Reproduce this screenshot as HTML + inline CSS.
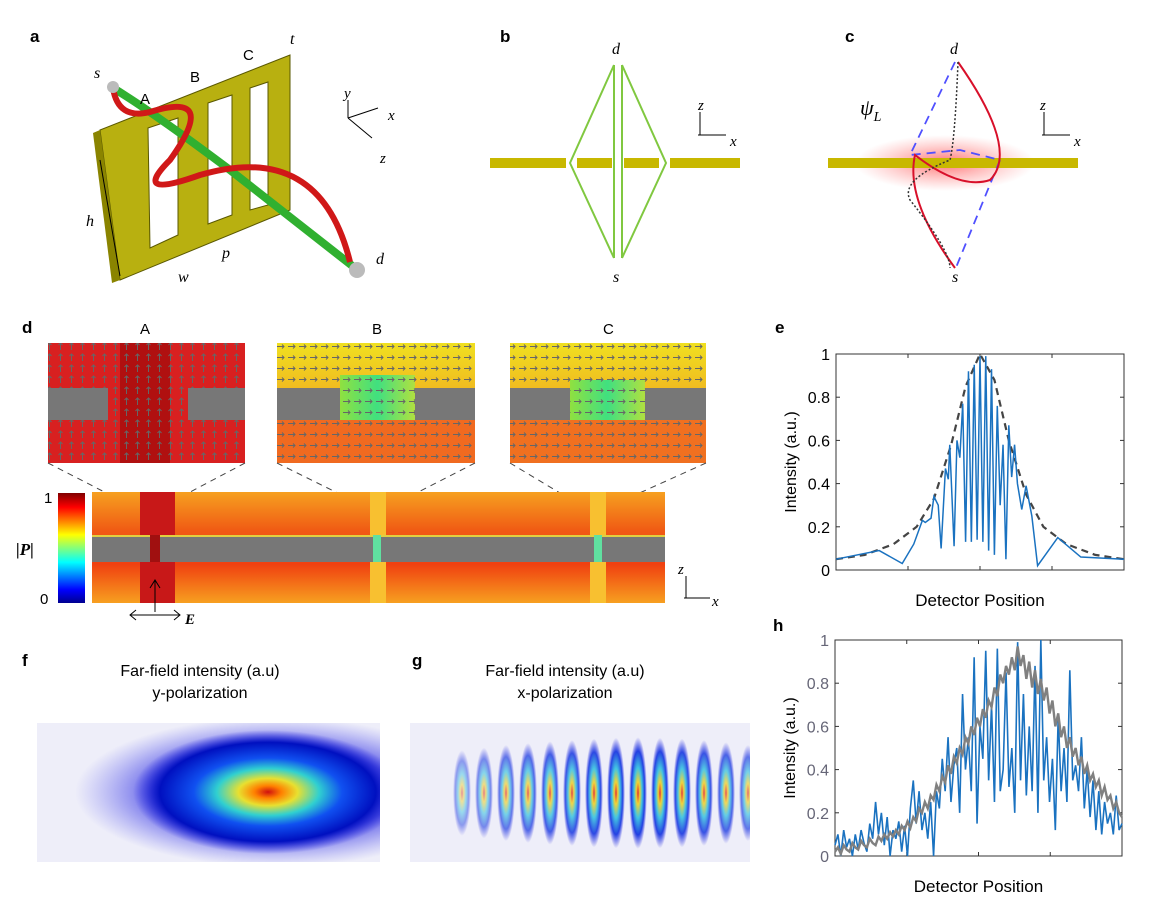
<!DOCTYPE html>
<html><head><meta charset="utf-8"><style>
body{margin:0;background:#fff;}
svg{display:block;font-family:"Liberation Sans",sans-serif;}
.lbl{font-weight:bold;font-size:17px;}
.it{font-family:"Liberation Serif",serif;font-style:italic;}
</style></head><body>
<svg id="fig" width="1161" height="899" viewBox="0 0 1161 899">
<defs>
 <clipPath id="clipF"><rect x="37" y="723" width="343" height="139"/></clipPath>
 <clipPath id="clipG"><rect x="410" y="723" width="340" height="139"/></clipPath>
 <linearGradient id="jet" x1="0" y1="1" x2="0" y2="0">
  <stop offset="0" stop-color="#00008f"/><stop offset="0.12" stop-color="#0000ff"/><stop offset="0.37" stop-color="#00ffff"/>
  <stop offset="0.62" stop-color="#ffff00"/><stop offset="0.87" stop-color="#ff0000"/><stop offset="1" stop-color="#800000"/>
 </linearGradient>
 <radialGradient id="fjet" cx="0.5" cy="0.5" r="0.5">
  <stop offset="0" stop-color="#d01010"/><stop offset="0.1" stop-color="#ff8000"/><stop offset="0.22" stop-color="#e8e030"/>
  <stop offset="0.38" stop-color="#30d0d0"/><stop offset="0.55" stop-color="#1050f0"/><stop offset="0.8" stop-color="#0010c0"/>
  <stop offset="1" stop-color="#2020e0" stop-opacity="0"/>
 </radialGradient>
 <radialGradient id="fhalo" cx="0.5" cy="0.5" r="0.5">
  <stop offset="0.6" stop-color="#2020e0" stop-opacity="0.7"/><stop offset="1" stop-color="#6060f0" stop-opacity="0"/>
 </radialGradient>
 <radialGradient id="gjet" cx="0.5" cy="0.5" r="0.5">
  <stop offset="0" stop-color="#e02020"/><stop offset="0.2" stop-color="#f0d020"/><stop offset="0.45" stop-color="#30c0e0"/>
  <stop offset="0.75" stop-color="#1030e0"/><stop offset="1" stop-color="#2020e0" stop-opacity="0"/>
 </radialGradient>
 <radialGradient id="glow" cx="0.5" cy="0.5" r="0.5">
  <stop offset="0" stop-color="#ff5050" stop-opacity="0.8"/><stop offset="1" stop-color="#ff8080" stop-opacity="0"/>
 </radialGradient>
 <pattern id="arrows" width="11" height="11" patternUnits="userSpaceOnUse">
  <path d="M2 5.5 H9 M7 3.5 L9 5.5 L7 7.5" stroke="#666" stroke-width="1" fill="none"/>
 </pattern>
 <pattern id="arrowsV" width="11" height="11" patternUnits="userSpaceOnUse">
  <path d="M5.5 9 V2 M3.5 4 L5.5 2 L7.5 4" stroke="#666" stroke-width="1" fill="none"/>
 </pattern>
 <linearGradient id="strip" x1="0" y1="0" x2="0" y2="1">
  <stop offset="0" stop-color="#f6a020"/><stop offset="0.35" stop-color="#f05a14"/><stop offset="0.65" stop-color="#f04010"/><stop offset="1" stop-color="#f7a020"/>
 </linearGradient>
 <linearGradient id="Btop" x1="0" y1="0" x2="0" y2="1">
  <stop offset="0" stop-color="#f0e020"/><stop offset="1" stop-color="#f08020"/>
 </linearGradient>
 <linearGradient id="greenfill" x1="0" y1="0" x2="1" y2="0">
  <stop offset="0" stop-color="#90e040"/><stop offset="0.5" stop-color="#40e080"/><stop offset="1" stop-color="#b0e040"/>
 </linearGradient>
</defs>

<!-- Panel a -->
<text class="lbl" x="30" y="42">a</text>
<g>
 <polygon points="100,130 290,55 290,210 120,280" fill="#b8b010" stroke="#5a5800" stroke-width="1"/>
 <polygon points="100,130 120,280 112,283 93,133" fill="#8a8400"/>
 <polygon points="148,128 178,118 178,235 150,248" fill="#fff" stroke="#5a5800"/>
 <polygon points="208,103 232,95 232,215 208,224" fill="#fff" stroke="#5a5800"/>
 <polygon points="250,88 268,82 268,205 250,210" fill="#fff" stroke="#5a5800"/>
 <path d="M113 88 Q150 110 230 170 L355 268" stroke="#30b030" stroke-width="8" fill="none"/>
 <path d="M113 88 Q118 120 150 112 Q220 90 170 160 Q130 200 200 175 Q320 140 350 262" stroke="#d01818" stroke-width="6" fill="none"/>
 <circle cx="113" cy="87" r="6" fill="#bbb"/><circle cx="357" cy="270" r="8" fill="#bbb"/>
 <text x="94" y="78" class="it" font-size="16">s</text>
 <text x="376" y="264" class="it" font-size="16">d</text>
 <text x="140" y="104" font-size="15">A</text>
 <text x="190" y="82" font-size="15">B</text>
 <text x="243" y="60" font-size="15">C</text>
 <text x="290" y="44" class="it" font-size="16">t</text>
 <text x="86" y="226" class="it" font-size="16">h</text>
 <text x="178" y="282" class="it" font-size="16">w</text>
 <text x="222" y="258" class="it" font-size="16">p</text>
 <path d="M100 160 L120 276" stroke="#000" stroke-width="1"/>
 <path d="M348 118 V100 M348 118 L378 108 M348 118 L372 138" stroke="#000" fill="none"/>
 <text x="344" y="98" class="it" font-size="15">y</text>
 <text x="388" y="120" class="it" font-size="15">x</text>
 <text x="380" y="163" class="it" font-size="15">z</text>
</g>

<!-- Panel b -->
<text class="lbl" x="500" y="42">b</text>
<g>
 <rect x="490" y="158" width="76" height="10" fill="#c8b800"/>
 <rect x="577" y="158" width="35" height="10" fill="#c8b800"/>
 <rect x="624" y="158" width="35" height="10" fill="#c8b800"/>
 <rect x="670" y="158" width="70" height="10" fill="#c8b800"/>
 <path d="M614 65 L570 163 L614 258 M622 65 L666 163 L622 258 M614 65 V258 M622 65 V258" stroke="#80c840" stroke-width="2" fill="none"/>
 <text x="612" y="54" class="it" font-size="16">d</text><text x="613" y="282" class="it" font-size="16">s</text>
 <path d="M698 135 H726 M700 135 V112" stroke="#000" fill="none"/>
 <text x="698" y="110" class="it" font-size="15">z</text><text x="730" y="146" class="it" font-size="15">x</text>
</g>

<!-- Panel c -->
<text class="lbl" x="845" y="42">c</text>
<g>
 <ellipse cx="945" cy="163" rx="90" ry="28" fill="url(#glow)"/>
 <rect x="828" y="158" width="250" height="10" fill="#c8b800"/>
 <path d="M955 62 L910 155 L960 150 L1000 160 L955 270" stroke="#5050ff" stroke-width="1.8" stroke-dasharray="9,6" fill="none"/>
 <path d="M958 62 Q1020 150 990 180 Q960 190 915 155 Q905 200 955 268" stroke="#d8102a" stroke-width="2" fill="none"/>
 <path d="M958 62 Q955 140 950 160 Q900 180 910 200 Q950 250 950 268" stroke="#333" stroke-width="1.5" stroke-dasharray="2,2" fill="none"/>
 <text x="950" y="54" class="it" font-size="16">d</text><text x="952" y="282" class="it" font-size="16">s</text>
 <text x="860" y="115" class="it" font-size="22">ψ<tspan font-size="14" dy="6">L</tspan></text>
 <path d="M1042 135 H1070 M1044 135 V112" stroke="#000" fill="none"/>
 <text x="1040" y="110" class="it" font-size="15">z</text><text x="1074" y="146" class="it" font-size="15">x</text>
</g>

<!-- Panel d -->
<text class="lbl" x="22" y="333">d</text>
<g>
 <text x="140" y="334" font-size="15">A</text>
 <rect x="48" y="343" width="197" height="120" fill="#d82020"/>
 <rect x="120" y="343" width="50" height="120" fill="#b01010"/>
 <rect x="48" y="343" width="197" height="120" fill="url(#arrowsV)"/>
 <rect x="48" y="388" width="60" height="32" fill="#777"/><rect x="188" y="388" width="57" height="32" fill="#777"/>
</g>
<g>
 <text x="372" y="334" font-size="15">B</text>
 <rect x="277" y="343" width="198" height="120" fill="url(#Btop)"/>
 <rect x="277" y="420" width="198" height="43" fill="#f06a20"/>
 <rect x="340" y="375" width="75" height="45" fill="url(#greenfill)"/>
 <rect x="277" y="343" width="198" height="120" fill="url(#arrows)"/>
 <rect x="277" y="388" width="63" height="32" fill="#777"/><rect x="415" y="388" width="60" height="32" fill="#777"/>
</g>
<g>
 <text x="603" y="334" font-size="15">C</text>
 <rect x="510" y="343" width="196" height="120" fill="url(#Btop)"/>
 <rect x="510" y="420" width="196" height="43" fill="#f07020"/>
 <rect x="570" y="380" width="75" height="40" fill="url(#greenfill)"/>
 <rect x="510" y="343" width="196" height="120" fill="url(#arrows)"/>
 <rect x="510" y="388" width="60" height="32" fill="#777"/><rect x="645" y="388" width="61" height="32" fill="#777"/>
</g>
<g stroke="#444" stroke-dasharray="6,5" fill="none">
 <path d="M48 463 L120 500 M245 463 L175 500 M277 463 L362 505 M475 463 L393 505 M510 463 L580 505 M706 463 L613 505"/>
 <rect x="362" y="505" width="31" height="90"/><rect x="580" y="505" width="33" height="90"/>
</g>
<g>
 <rect x="58" y="493" width="27" height="110" fill="url(#jet)"/>
 <text x="44" y="503" font-size="15">1</text><text x="40" y="604" font-size="15">0</text>
 <text x="16" y="555" class="it" font-size="17" font-weight="bold">|P|</text>
</g>
<g>
 <rect x="92" y="492" width="573" height="111" fill="url(#strip)"/>
 <rect x="140" y="492" width="35" height="111" fill="#c81818"/>
 <rect x="370" y="492" width="16" height="111" fill="#f8c030"/>
 <rect x="590" y="492" width="16" height="111" fill="#f8c030"/>
 <rect x="92" y="535" width="573" height="27" fill="#777"/>
 <rect x="92" y="535" width="573" height="2" fill="#e0d040"/>
 <rect x="150" y="535" width="10" height="27" fill="#a01010"/>
 <rect x="373" y="535" width="8" height="27" fill="#60e0a0"/>
 <rect x="594" y="535" width="8" height="27" fill="#60e0a0"/>
 <path d="M155 612 V580 M150 588 L155 580 L160 588 M130 615 H180 M136 610 L130 615 L136 620 M174 610 L180 615 L174 620" stroke="#000" fill="none"/>
 <text x="185" y="624" class="it" font-size="15" font-weight="bold">E</text>
 <path d="M684 598 H710 M686 598 V576" stroke="#000" fill="none"/>
 <text x="678" y="574" class="it" font-size="15">z</text><text x="712" y="606" class="it" font-size="15">x</text>
</g>

<!-- Panel f -->
<text class="lbl" x="22" y="666">f</text>
<text x="200" y="676" font-size="16" text-anchor="middle">Far-field intensity (a.u)</text>
<text x="200" y="698" font-size="16" text-anchor="middle">y-polarization</text>
<g clip-path="url(#clipF)">
 <rect x="37" y="723" width="343" height="139" fill="#eeeef9"/>
 <ellipse cx="275" cy="792" rx="200" ry="75" fill="url(#fhalo)"/>
 <ellipse cx="268" cy="792" rx="135" ry="62" fill="url(#fjet)"/>
</g>

<!-- Panel g -->
<text class="lbl" x="412" y="666">g</text>
<text x="565" y="676" font-size="16" text-anchor="middle">Far-field intensity (a.u)</text>
<text x="565" y="698" font-size="16" text-anchor="middle">x-polarization</text>
<g id="gfringes" clip-path="url(#clipG)">
 <rect x="410" y="723" width="340" height="139" fill="#eeeef9"/>
</g>

<!-- Panel e -->
<text class="lbl" x="775" y="333">e</text>
<g id="chartE"></g>
<!-- Panel h -->
<text class="lbl" x="773" y="631">h</text>
<g id="chartH"></g>
</svg>
<script>
// Panel e data
const eBlueX=[0,0.15,0.23,0.27,0.30,0.31,0.33,0.34,0.355,0.365,0.38,0.39,0.395,0.41,0.42,0.43,0.44,0.45,0.46,0.47,0.48,0.49,0.50,0.51,0.52,0.53,0.54,0.55,0.56,0.57,0.58,0.59,0.60,0.61,0.62,0.63,0.645,0.66,0.68,0.70,0.77,0.85,1];
const eBlueY=[0.05,0.09,0.03,0.12,0.23,0.22,0.24,0.34,0.30,0.10,0.47,0.42,0.58,0.11,0.60,0.52,0.77,0.13,0.92,0.13,0.95,0.14,0.99,0.13,0.99,0.09,0.93,0.07,0.76,0.30,0.58,0.05,0.67,0.43,0.58,0.40,0.28,0.39,0.25,0.02,0.15,0.06,0.05];
const eDashX=[0,0.1,0.2,0.28,0.34,0.4,0.45,0.5,0.55,0.6,0.66,0.72,0.8,0.9,1];
const eDashY=[0.05,0.07,0.12,0.2,0.33,0.58,0.85,1.0,0.88,0.6,0.35,0.2,0.12,0.07,0.05];
const yTicks=[0,0.2,0.4,0.6,0.8,1];
const yTickLabels=["0","0.2","0.4","0.6","0.8","1"];
// Panel h data
const hGray=[0.02,0.04,0.01,0.05,0.03,0.02,0.06,0.04,0.03,0.07,0.05,0.04,0.08,0.06,0.05,0.09,0.07,0.1,0.08,0.11,
0.09,0.12,0.1,0.14,0.12,0.16,0.13,0.18,0.16,0.22,0.2,0.25,0.22,0.28,0.26,0.33,0.3,0.37,0.34,0.42,
0.38,0.46,0.43,0.5,0.47,0.55,0.52,0.6,0.56,0.64,0.6,0.68,0.64,0.72,0.69,0.78,0.74,0.84,0.8,0.88,
0.84,0.92,0.86,0.97,0.88,0.93,0.82,0.9,0.78,0.86,0.75,0.82,0.72,0.78,0.66,0.72,0.6,0.66,0.55,0.6,
0.5,0.55,0.46,0.5,0.42,0.46,0.38,0.42,0.35,0.38,0.32,0.35,0.28,0.32,0.26,0.28,0.22,0.25,0.2,0.18];
const hBlue=[0.05,0.1,0.0,0.12,0.04,0.08,0.0,0.1,0.03,0.12,0.06,0.02,0.15,0.08,0.25,0.1,0.2,0.05,0.18,0.0,
0.12,0.08,0.16,0.02,0.14,0.0,0.22,0.35,0.15,0.3,0.12,0.2,0.08,0.25,0.0,0.3,0.22,0.45,0.3,0.55,
0.25,0.42,0.5,0.2,0.75,0.4,0.55,0.3,0.92,0.15,0.6,0.45,0.95,0.35,0.7,0.25,0.96,0.3,0.4,0.85,
0.32,0.5,0.2,0.99,0.35,0.75,0.28,0.6,0.3,0.88,0.2,1.0,0.35,0.55,0.25,0.45,0.12,0.65,0.3,0.5,
0.25,0.86,0.35,0.42,0.3,0.55,0.22,0.4,0.18,0.35,0.12,0.3,0.1,0.25,0.15,0.2,0.1,0.28,0.12,0.15];
// Panel g fringe intensities
const gFringes=[0.15,0.3,0.45,0.55,0.65,0.72,0.8,0.85,0.88,0.85,0.8,0.72,0.6,0.45];

const NS="http://www.w3.org/2000/svg";
function mk(tag,attrs,parent){const e=document.createElementNS(NS,tag);for(const k in attrs)e.setAttribute(k,attrs[k]);parent.appendChild(e);return e;}

function axes(g,L,R,T,B,tc){
  const f=mk('rect',{x:L,y:T,width:R-L,height:B-T,fill:'none',stroke:'#333','stroke-width':1},g);
  
  
  yTicks.forEach((v,i)=>{const y=B-v*(B-T);
    mk('line',{x1:L,x2:L+4,y1:y,y2:y,stroke:'#333'},g);mk('line',{x1:R,x2:R-4,y1:y,y2:y,stroke:'#333'},g);
    const t=mk('text',{x:L-6,y:y+6,'text-anchor':'end','font-size':16,fill:tc},g);t.textContent=yTickLabels[i];
    
    });
  for(let i=0;i<=4;i++){const x=L+i*(R-L)/4;mk('line',{x1:x,x2:x,y1:T,y2:T+4,stroke:'#333'},g);mk('line',{x1:x,x2:x,y1:B,y2:B-4,stroke:'#333'},g);}
  const xt=mk('text',{x:(L+R)/2,y:B+36,'text-anchor':'middle','font-size':17},g);xt.textContent='Detector Position';
  
  
  const yt=mk('text',{x:0,y:0,'text-anchor':'middle','font-size':16,transform:`translate(${L-40},${(T+B)/2}) rotate(-90)`},g);yt.textContent='Intensity (a.u.)';
  
  
}
// Chart e
(function(){const g=document.getElementById('chartE');const L=836,R=1124,T=354,B=570;
 const sx=v=>L+v*(R-L),sy=v=>B-v*(B-T);
 axes(g,L,R,T,B,'#000');
 const d=mk('path',{d:eDashX.map((x,i)=>(i?'L':'M')+sx(x)+' '+sy(eDashY[i])).join(' '),stroke:'#444','stroke-width':2.2,'stroke-dasharray':'7,5',fill:'none'},g);
 
 
 const b=mk('path',{d:eBlueX.map((x,i)=>(i?'L':'M')+sx(x)+' '+sy(eBlueY[i])).join(' '),stroke:'#1a72c0','stroke-width':1.5,fill:'none'},g);
 
 
})();
// Chart h
(function(){const g=document.getElementById('chartH');const L=835,R=1122,T=640,B=856;
 const sy=v=>B-v*(B-T);
 axes(g,L,R,T,B,'#667');
 const n=hBlue.length;const sx=i=>L+i*(R-L)/(n-1);
 const b=mk('path',{d:hBlue.map((v,i)=>(i?'L':'M')+sx(i)+' '+sy(v)).join(' '),stroke:'#1a72c0','stroke-width':1.6,fill:'none'},g);
 
 
 const m=hGray.length;const sx2=i=>L+i*(R-L)/(m-1);
 const gr=mk('path',{d:hGray.map((v,i)=>(i?'L':'M')+sx2(i)+' '+sy(v)).join(' '),stroke:'#808080','stroke-width':2.4,fill:'none'},g);
 
 
})();
// Panel g fringes
(function(){const g=document.getElementById('gfringes');const x0=462,dx=22;
 gFringes.forEach((v,i)=>{const e=mk('ellipse',{cx:x0+i*dx,cy:793,rx:9,ry:40+v*18,fill:'url(#gjet)',opacity:0.35+v*0.65},g);
  
  });
})();
</script>
</body></html>
